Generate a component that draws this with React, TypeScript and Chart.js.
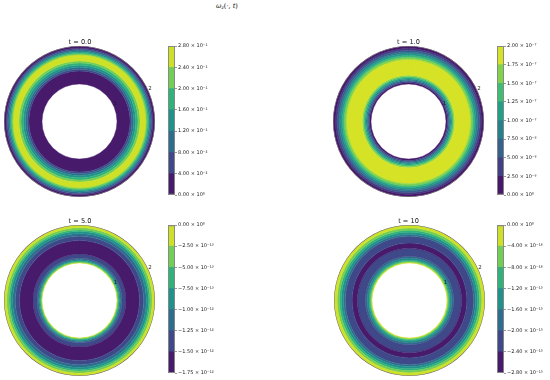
import React, { useEffect, useRef } from 'react';
import { Chart, registerables } from 'chart.js';
Chart.register(...registerables);

// ---------- data ----------
const panelTitles = ['t = 0.0', 't = 1.0', 't = 5.0', 't = 10'];
const rTicks = [1, 2];

// contour levels (colorbar ticks)
const t0Levels = [0, 0.04, 0.08, 0.12, 0.16, 0.2, 0.24, 0.28];
const t1Levels = [0, 2.5e-8, 5e-8, 7.5e-8, 1e-7, 1.25e-7, 1.5e-7, 1.75e-7, 2e-7];
const t5Levels = [-1.75e-12, -1.5e-12, -1.25e-12, -1e-12, -7.5e-13, -5e-13, -2.5e-13, 0];
const t10Levels = [-2.8e-15, -2.4e-15, -2e-15, -1.6e-15, -1.2e-15, -8e-16, -4e-16, 0];

// radial band edges (r from 2 outward edge to 1 inner edge) and band level index
const t0Edges = [2.0, 1.955, 1.92, 1.885, 1.85, 1.815, 1.778, 1.616, 1.56, 1.5, 1.445, 1.395, 1.348, 1.0];
const t0Bands = [0, 1, 2, 3, 4, 5, 6, 5, 4, 3, 2, 1, 0];

const t1Edges = [2.0, 1.945, 1.895, 1.85, 1.805, 1.76, 1.715, 1.66, 1.235, 1.2, 1.167, 1.135, 1.103, 1.07, 1.04, 1.0];
const t1Bands = [0, 1, 2, 3, 4, 5, 6, 7, 6, 5, 4, 3, 2, 1, 0];

const t5Edges = [2.0, 1.94, 1.88, 1.84, 1.78, 1.71, 1.6, 1.24, 1.134, 1.09, 1.063, 1.036, 1.018, 1.0];
const t5Bands = [6, 5, 4, 3, 2, 1, 0, 1, 2, 3, 4, 5, 6];

const t10Edges = [2.0, 1.93, 1.87, 1.82, 1.76, 1.71, 1.53, 1.39, 1.18, 1.13, 1.08, 1.05, 1.025, 1.0];
const t10Bands = [6, 5, 4, 3, 2, 1, 0, 1, 2, 3, 4, 5, 6];

// ---------- styling helpers ----------
const VIRIDIS = ['#440154', '#482475', '#414487', '#355f8d', '#2a788e', '#21918c', '#22a884', '#44bf70', '#7ad151', '#bddf26', '#fde725'];
function hex(h: string) {
  return [parseInt(h.slice(1, 3), 16), parseInt(h.slice(3, 5), 16), parseInt(h.slice(5, 7), 16)];
}
function viridis(x: number) {
  const t = Math.min(Math.max(x, 0), 1) * (VIRIDIS.length - 1);
  const i = Math.min(Math.floor(t), VIRIDIS.length - 2);
  const f = t - i;
  const a = hex(VIRIDIS[i]);
  const b = hex(VIRIDIS[i + 1]);
  const c = a.map((v, k) => Math.round(v + (b[k] - v) * f));
  return `rgb(${c[0]},${c[1]},${c[2]})`;
}
const SUP: Record<string, string> = { '0': '⁰', '1': '¹', '2': '²', '3': '³', '4': '⁴', '5': '⁵', '6': '⁶', '7': '⁷', '8': '⁸', '9': '⁹', '-': '⁻' };
function sup(n: number) {
  return String(n).split('').map((c) => SUP[c] || c).join('');
}
function fmt(v: number) {
  if (Math.abs(v) < 1e-30) return '0.00 × 10⁰';
  let e = Math.floor(Math.log10(Math.abs(v)) + 1e-9);
  let s = (Math.abs(v) / Math.pow(10, e)).toFixed(2);
  if (s === '10.00') {
    e += 1;
    s = (Math.abs(v) / Math.pow(10, e)).toFixed(2);
  }
  return (v < 0 ? '−' : '') + s + ' × 10' + sup(e);
}

const FONT = "'DejaVu Sans', sans-serif";
const SPINE = 0.013;
const SPINE_COLOR = '#5a5a5a';
const RING_CANVAS = 171;
const RING_PAD = 10;

const rLabelPlugin = {
  id: 'rLabels',
  afterDraw(chart: any) {
    const n = chart.data.datasets.length;
    const outerArc = chart.getDatasetMeta(1).data[0];
    const innerArc = chart.getDatasetMeta(n - 1).data[0];
    if (!outerArc || !innerArc) return;
    const cx = outerArc.x;
    const cy = outerArc.y;
    const rOut = outerArc.outerRadius;
    const rIn = innerArc.innerRadius;
    const ang = (22.5 * Math.PI) / 180;
    const ctx = chart.ctx;
    ctx.save();
    ctx.font = `5.5px ${FONT}`;
    ctx.fillStyle = '#222';
    ctx.textAlign = 'left';
    ctx.textBaseline = 'middle';
    rTicks.forEach((v) => {
      const rr = rIn + (v - 1) * (rOut - rIn);
      ctx.fillText(String(v), cx + rr * Math.cos(ang) - 0.5, cy - rr * Math.sin(ang) - 4);
    });
    ctx.restore();
  },
};

function Ring({ edges, bands, nBands, cx, cy }: { edges: number[]; bands: number[]; nBands: number; cx: number; cy: number }) {
  const ref = useRef<HTMLCanvasElement>(null);
  useEffect(() => {
    const datasets: any[] = [
      { data: [1], weight: SPINE, backgroundColor: SPINE_COLOR, borderColor: SPINE_COLOR, borderWidth: 0 },
    ];
    bands.forEach((b, i) => {
      const c = viridis((b + 0.5) / nBands);
      datasets.push({ data: [1], weight: edges[i] - edges[i + 1], backgroundColor: c, borderColor: c, borderWidth: 0.4 });
    });
    const chart = new Chart(ref.current as HTMLCanvasElement, {
      type: 'doughnut',
      data: { labels: ['v'], datasets },
      options: {
        animation: false,
        responsive: false,
        events: [],
        cutout: `${100 / (2 + SPINE)}%`,
        hoverOffset: 0,
        offset: 0,
        layout: { padding: RING_PAD },
        plugins: { legend: { display: false }, tooltip: { enabled: false } },
      } as any,
      plugins: [rLabelPlugin],
    });
    return () => chart.destroy();
  }, []);
  return (
    <canvas
      ref={ref}
      width={RING_CANVAS}
      height={RING_CANVAS}
      style={{ position: 'absolute', left: cx - RING_CANVAS / 2, top: cy - RING_CANVAS / 2, width: RING_CANVAS, height: RING_CANVAS }}
    />
  );
}

function ColorBar({ levels, left, top, bottom }: { levels: number[]; left: number; top: number; bottom: number }) {
  const ref = useRef<HTMLCanvasElement>(null);
  const W = 62;
  const BAR = 7;
  const PT = 6;
  const PB = 7;
  const H = bottom - top + PT + PB;
  useEffect(() => {
    const min = levels[0];
    const max = levels[levels.length - 1];
    const n = levels.length - 1;
    const common = { grouped: false, barPercentage: 1, categoryPercentage: 1 };
    const datasets: any[] = [
      { ...common, data: [[min, max]], backgroundColor: 'rgba(0,0,0,0)', borderColor: '#888', borderWidth: 0.6, borderSkipped: false },
    ];
    for (let i = 0; i < n; i++) {
      datasets.push({ ...common, data: [[levels[i], levels[i + 1]]], backgroundColor: viridis((i + 0.5) / n), borderWidth: 0 });
    }
    const chart = new Chart(ref.current as HTMLCanvasElement, {
      type: 'bar',
      data: { labels: [''], datasets },
      options: {
        animation: false,
        responsive: false,
        events: [],
        layout: { padding: { top: PT, bottom: PB, left: 0, right: 0 } },
        plugins: { legend: { display: false }, tooltip: { enabled: false } },
        scales: {
          x: { display: false },
          y: {
            position: 'right',
            min,
            max,
            bounds: 'data',
            afterBuildTicks: (s: any) => {
              s.ticks = levels.map((v) => ({ value: v }));
            },
            afterFit: (s: any) => {
              s.width = W - BAR;
            },
            grid: { drawOnChartArea: false, drawTicks: true, tickLength: 2, color: '#333', lineWidth: 0.5 },
            border: { display: false },
            ticks: {
              autoSkip: false,
              padding: 1,
              color: '#222',
              font: { size: 5, family: FONT },
              callback: (v: any) => fmt(Number(v)),
            },
          },
        },
      } as any,
    });
    return () => chart.destroy();
  }, []);
  return (
    <canvas
      ref={ref}
      width={W}
      height={H}
      style={{ position: 'absolute', left, top: top - PT, width: W, height: H }}
    />
  );
}

function Title({ text, cx, cy }: { text: string; cx: number; cy: number }) {
  return (
    <div
      style={{
        position: 'absolute',
        left: cx - 40,
        top: cy - 5,
        width: 80,
        height: 10,
        lineHeight: '10px',
        textAlign: 'center',
        fontFamily: FONT,
        fontSize: 6.6,
        color: '#111',
        whiteSpace: 'nowrap',
      }}
    >
      {text}
    </div>
  );
}

export default function App() {
  return (
    <div style={{ position: 'fixed', left: 0, top: 0, width: 550, height: 380, background: '#fff', overflow: 'hidden' }}>
      <div
        style={{
          position: 'absolute',
          left: 216,
          top: 1,
          height: 10,
          lineHeight: '10px',
          fontFamily: "'DejaVu Serif', serif",
          fontSize: 6.6,
          color: '#111',
          whiteSpace: 'nowrap',
        }}
      >
        <i>ω</i>
        <i style={{ fontSize: '0.7em', position: 'relative', top: '0.25em' }}>z</i>(·, <i>t</i>)
      </div>

      <Ring edges={t0Edges} bands={t0Bands} nBands={t0Levels.length - 1} cx={79.5} cy={121.2} />
      <Ring edges={t1Edges} bands={t1Bands} nBands={t1Levels.length - 1} cx={408.8} cy={121.2} />
      <Ring edges={t5Edges} bands={t5Bands} nBands={t5Levels.length - 1} cx={79.5} cy={300.5} />
      <Ring edges={t10Edges} bands={t10Bands} nBands={t10Levels.length - 1} cx={409} cy={300.5} />

      <ColorBar levels={t0Levels} left={168} top={46} bottom={195} />
      <ColorBar levels={t1Levels} left={497} top={46} bottom={195} />
      <ColorBar levels={t5Levels} left={168} top={225} bottom={373} />
      <ColorBar levels={t10Levels} left={497} top={225} bottom={373} />

      <Title text={panelTitles[0]} cx={80} cy={42} />
      <Title text={panelTitles[1]} cx={408.5} cy={42} />
      <Title text={panelTitles[2]} cx={80} cy={221} />
      <Title text={panelTitles[3]} cx={408.5} cy={221} />
    </div>
  );
}
